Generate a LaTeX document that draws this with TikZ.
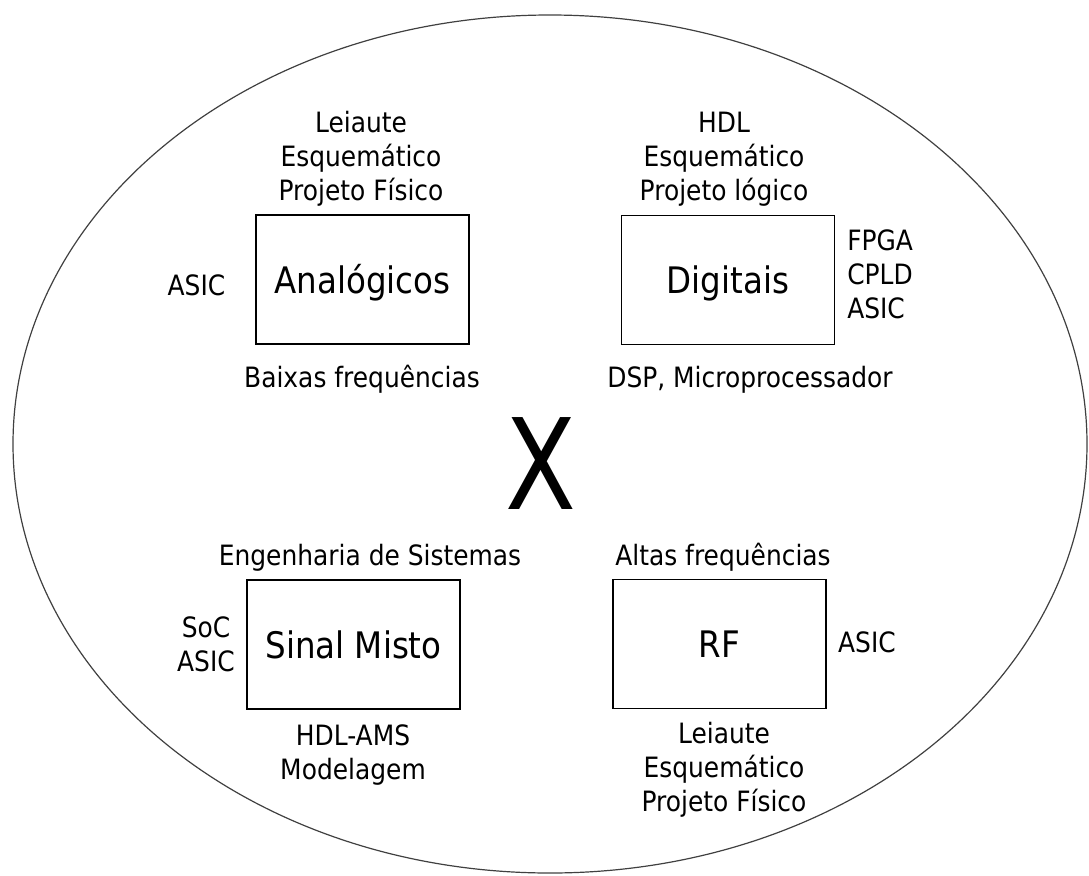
\documentclass[tikz,border=0pt]{standalone}
\usepackage{graphicx}
\usepackage{fontspec}
\setmainfont{DejaVu Sans}[FakeStretch=0.89]
\newfontfamily\bigxfont{DejaVu Sans}

\begin{document}
\begin{tikzpicture}[x=0.75pt, y=-0.75pt,
  area/.style={draw, line width=0.8pt, minimum width=159.75pt, minimum height=96.75pt,
    inner sep=0pt, text height=20.25pt, text depth=0pt, font=\fontsize{27.4}{30}\selectfont},
  lbl/.style={inner sep=0pt, align=center, font=\fontsize{21}{25.5}\selectfont}]
\useasboundingbox (0,0) rectangle (1089,875);
\draw[black!75, line width=0.9pt] (550,444) ellipse [x radius=537, y radius=429];

\node[area] (ana) at (362.5,279.5) {Analógicos};
\node[area] (dig) at (728,280) {Digitais};
\node[area] (mix) at (353.5,644.5) {Sinal Misto};
\node[area] (rf) at (719.5,644) {RF};

\node[lbl, anchor=south] (anaTop) at (361,206.6) {Leiaute\\Esquemático\\Projeto Físico};
\node[lbl, anchor=base] (anaLeft) at (196.5,295) {ASIC};
\node[lbl, anchor=base] (anaBot) at (362,387) {Baixas frequências};

\node[lbl, anchor=south] (digTop) at (724,206.6) {HDL\\Esquemático\\Projeto lógico};
\node[lbl, anchor=north west, align=left] (digRight) at (847,229.6) {FPGA\\CPLD\\ASIC};
\node[lbl, anchor=base] (digBot) at (750,387) {DSP, Microprocessador};

\node[lbl, anchor=base] (mixTop) at (370,565) {Engenharia de Sistemas};
\node[lbl, anchor=north] (mixLeft) at (206,616) {SoC\\ASIC};
\node[lbl, anchor=north] (mixBot) at (353,724.6) {HDL-AMS\\Modelagem};

\node[lbl, anchor=base] (rfTop) at (723,565) {Altas frequências};
\node[lbl, anchor=base] (rfRight) at (867,652) {ASIC};
\node[lbl, anchor=north] (rfBot) at (724,721.7) {Leiaute\\Esquemático\\Projeto Físico};

\node[inner sep=0pt, font=\bigxfont\fontsize{94.6}{100}\selectfont] (versus) at (541,464) {\scalebox{0.82}[1]{X}};
\end{tikzpicture}
\end{document}
